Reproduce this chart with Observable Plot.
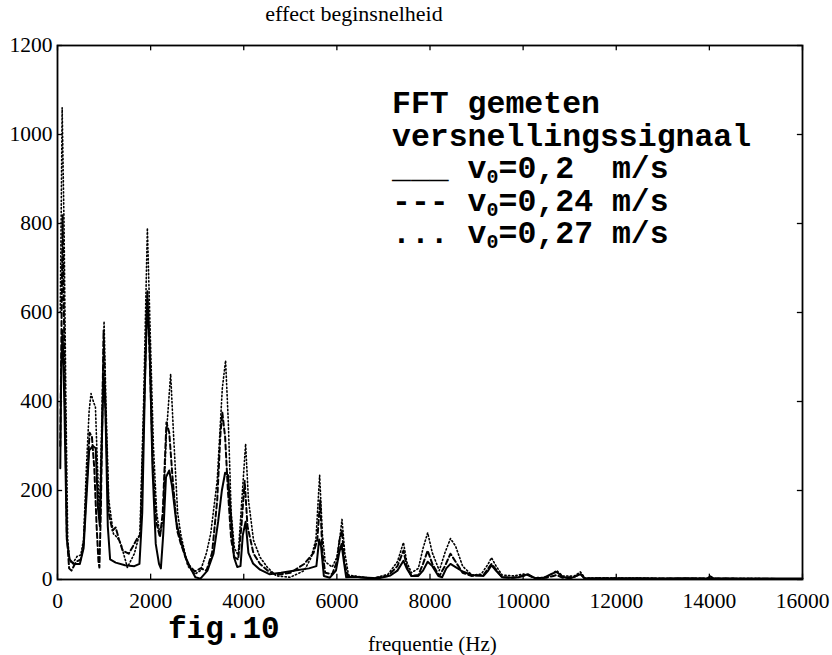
<!DOCTYPE html>
<html><head><meta charset="utf-8">
<script src="https://cdn.jsdelivr.net/npm/d3@7"></script>
<script src="https://cdn.jsdelivr.net/npm/@observablehq/plot@0.6"></script>
<style>
body{margin:0;background:#fff;}
#wrap{width:832px;height:655px;overflow:hidden;}
</style></head><body>
<div id="wrap"></div>
<script>
// ---- data ----
const xTicks = [0, 2000, 4000, 6000, 8000, 10000, 12000, 14000, 16000];
const yTicks = [0, 200, 400, 600, 800, 1000, 1200];

// v0 = 0,2 m/s (solid)
const solidHz  = [60,80,110,150,200,260,350,480,560,620,680,760,820,870,910,950,990,1030,1080,1130,1250,1450,1650,1760,1820,1880,1930,1980,2040,2110,2180,2220,2270,2330,2400,2460,2550,2640,2750,2860,2960,3070,3220,3350,3450,3530,3600,3660,3720,3790,3860,3930,3980,4040,4100,4200,4350,4550,4800,5100,5400,5560,5620,5660,5720,5850,5980,6050,6100,6150,6200,6400,6700,6900,7150,7300,7430,7500,7600,7750,7850,7950,8050,8180,8260,8350,8440,8550,8700,8900,9150,9250,9320,9400,9550,9700,9900,10100,10250,10450,10600,10720,10850,11000,11150,11230,11320,11600,12000,12500,13000,13500,13950,14020,14100,14500,15000,15500,16000];
const solidAmp = [250,480,560,380,90,45,35,35,70,180,290,300,295,160,120,300,455,380,120,45,38,32,30,35,150,450,635,520,250,80,35,25,100,230,245,210,130,90,50,25,5,2,20,58,130,200,240,235,150,50,28,30,100,130,60,36,22,12,15,20,25,30,90,75,8,4,20,60,80,40,5,6,3,3,9,20,42,25,8,8,20,40,30,8,5,25,35,28,18,10,8,20,32,22,5,4,5,12,3,4,12,17,6,2,8,12,2,3,2,3,2,3,2,7,2,2,2,2,2];

// v0 = 0,24 m/s (dashed)
const dashHz  = [60,110,150,200,250,300,400,500,560,620,690,740,790,840,880,900,930,990,1040,1100,1180,1250,1320,1400,1530,1650,1720,1780,1850,1930,1980,2050,2120,2200,2260,2340,2400,2470,2570,2650,2800,2950,3070,3200,3320,3430,3500,3540,3600,3660,3730,3800,3880,3950,4020,4080,4210,4350,4510,4700,5000,5300,5500,5580,5640,5690,5750,5900,6000,6060,6110,6160,6230,6500,6800,7100,7300,7430,7500,7600,7750,7850,7950,8050,8200,8320,8440,8550,8700,8900,9150,9250,9320,9420,9550,9800,10000,10100,10250,10500,10650,10720,10850,11100,11230,11330,11800,12500,13500,14500,16000];
const dashAmp = [300,820,500,100,25,20,40,45,80,200,330,320,250,120,40,27,150,560,350,150,110,117,90,65,58,80,94,100,350,650,500,250,130,95,150,353,330,230,110,80,35,18,25,20,60,178,328,375,320,200,90,50,45,120,222,120,58,35,20,10,15,35,60,90,178,60,15,12,40,90,110,40,8,5,3,8,30,65,30,8,10,35,65,35,8,30,58,40,15,8,10,25,35,22,5,4,8,10,3,4,8,10,4,6,13,2,3,2,2,2,1];

// v0 = 0,27 m/s (dotted)
const dotHz  = [60,100,140,180,220,260,320,420,500,560,620,680,720,770,815,860,900,950,1000,1040,1100,1200,1280,1360,1500,1650,1770,1850,1930,1990,2060,2130,2200,2260,2340,2430,2490,2580,2650,2800,2950,3070,3200,3290,3430,3540,3610,3670,3730,3800,3880,3960,4040,4100,4210,4350,4510,4700,5000,5300,5450,5550,5630,5690,5750,5900,6000,6070,6110,6170,6250,6500,6800,7100,7300,7430,7500,7600,7750,7850,7950,8050,8200,8320,8440,8550,8700,8900,9100,9250,9320,9420,9550,9800,10000,10100,10250,10500,10650,10720,10850,11100,11230,11330,11800,12500,13000,14000,15000,16000];
const dotAmp = [600,1060,800,400,90,43,35,52,55,90,250,380,418,400,387,250,140,350,580,400,180,103,95,81,27,58,105,400,790,560,300,150,100,130,330,462,330,150,100,30,12,20,60,103,222,430,492,350,150,70,55,180,305,180,88,50,27,8,5,20,50,90,234,100,40,28,50,100,135,60,10,6,3,12,40,83,40,15,25,70,105,60,20,60,92,75,30,10,12,35,49,30,10,8,12,10,4,5,15,20,8,8,17,3,3,3,2,2,2,1];

const series = [
  {name: "v0=0,27 m/s", hz: dotHz, amp: dotAmp, dash: "1.3,2.4", width: 1.6},
  {name: "v0=0,24 m/s", hz: dashHz, amp: dashAmp, dash: "5,3", width: 2},
  {name: "v0=0,2 m/s", hz: solidHz, amp: solidAmp, dash: null, width: 2}
];

const serif = "'Liberation Serif','Times New Roman',serif";
const mono = "'Liberation Mono','Courier New',monospace";

const lineMarks = series.map(s =>
  Plot.line(s.hz.map((h, i) => ({hz: h, amp: s.amp[i]})), {
    x: "hz", y: "amp", stroke: "#000", strokeWidth: s.width,
    strokeDasharray: s.dash, strokeLinejoin: "round"
  })
);

const tickLenY = 12;   // in amplitude units (~5 px)
const tickLenX = 110;  // in Hz (~5 px)

const svg = Plot.plot({
  width: 832,
  height: 655,
  marginLeft: 57,
  marginRight: 30,
  marginTop: 45,
  marginBottom: 76,
  style: {fontFamily: serif, background: "#fff", color: "#000"},
  x: {domain: [0, 16000], label: null},
  y: {domain: [0, 1200], label: null},
  marks: [
    ...lineMarks,
    Plot.ruleX(xTicks, {y1: 0, y2: tickLenY, stroke: "#000", strokeWidth: 1.3}),
    Plot.ruleX(xTicks, {y1: 1200, y2: 1200 - tickLenY, stroke: "#000", strokeWidth: 1.3}),
    Plot.ruleY(yTicks, {x1: 0, x2: tickLenX, stroke: "#000", strokeWidth: 1.3}),
    Plot.ruleY(yTicks, {x1: 16000, x2: 16000 - tickLenX, stroke: "#000", strokeWidth: 1.3}),
    Plot.frame({stroke: "#000", strokeWidth: 1.8}),
    Plot.axisX({ticks: xTicks, tickSize: 0, tickPadding: 13, fontSize: 21.5, tickFormat: d => String(d), fill: "#000", label: null}),
    Plot.axisY({ticks: yTicks, tickSize: 0, tickPadding: 5, fontSize: 21.5, tickFormat: d => String(d), fill: "#000", label: null})
  ]
});

const root = d3.select(svg);
// subtitle
root.append("text").attr("x", 354).attr("y", 21).attr("text-anchor", "middle")
  .style("font-family", serif).style("font-size", "22px").attr("fill", "#000")
  .text("effect beginsnelheid");
// x-axis label
root.append("text").attr("x", 368).attr("y", 651).attr("text-anchor", "start")
  .style("font-family", serif).style("font-size", "21px").attr("fill", "#000")
  .text("frequentie (Hz)");
// fig. caption
root.append("text").attr("x", 168).attr("y", 638).attr("text-anchor", "start")
  .style("font-family", mono).style("font-weight", "bold").style("font-size", "31px").attr("fill", "#000")
  .text("fig.10");

// legend
const legendLines = [
  {pre: "FFT gemeten"},
  {pre: "versnellingssignaal"},
  {pre: "___ v", sub: "0", post: "=0,2  m/s"},
  {pre: "--- v", sub: "0", post: "=0,24 m/s"},
  {pre: "... v", sub: "0", post: "=0,27 m/s"}
];
const lg = root.append("g").attr("text-anchor", "start").style("font-family", mono).style("font-weight", "bold")
  .style("font-size", "31.5px").attr("fill", "#000");
legendLines.forEach((l, i) => {
  const t = lg.append("text").attr("x", 392).attr("y", 113 + i * 32.5).attr("xml:space", "preserve")
    .style("white-space", "pre");
  t.append("tspan").text(l.pre);
  if (l.sub) {
    t.append("tspan").attr("dy", 5).style("font-size", "20px").text(l.sub);
    t.append("tspan").attr("dy", -5).text(l.post);
  }
});

document.getElementById("wrap").appendChild(svg);
</script>
</body></html>
